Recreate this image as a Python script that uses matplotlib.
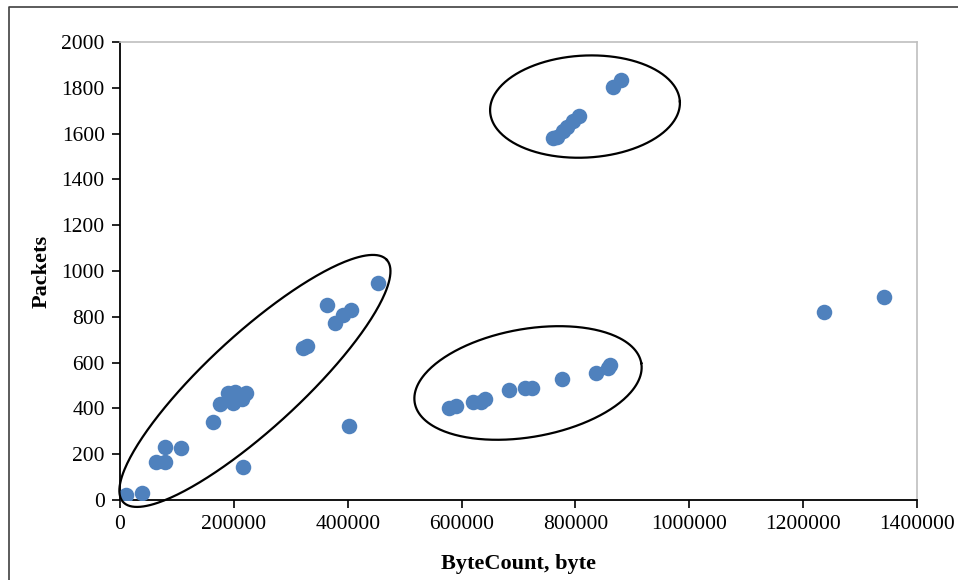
import numpy as np
import matplotlib
matplotlib.use('Agg')
import matplotlib.pyplot as plt
from matplotlib.lines import Line2D

plt.rcParams['font.family'] = ['Liberation Serif', 'DejaVu Serif']

# 데이터
byte_count = [
    11000, 38000, 64000, 79000, 79000, 108000, 163000, 176000, 190000, 202000,
    199000, 214000, 221000, 216000, 322000, 329000, 363000, 378000, 392000, 405000,
    403000, 454000,
    578000, 591000, 620000, 635000, 641000, 684000, 711000, 723000, 776000, 837000,
    858000, 861000,
    760000, 768000, 778000, 786000, 796000, 806000, 866000, 880000,
    1237000, 1342000,
]
packets = [
    22, 29, 167, 167, 233, 226, 342, 419, 469, 470,
    422, 440, 469, 146, 662, 672, 850, 772, 808, 830,
    323, 946,
    400, 410, 429, 429, 443, 480, 487, 487, 527, 556,
    578, 590,
    1580, 1585, 1610, 1630, 1655, 1678, 1805, 1835,
    820, 888,
]

x_ticks = [0, 200000, 400000, 600000, 800000, 1000000, 1200000, 1400000]
y_ticks = [0, 200, 400, 600, 800, 1000, 1200, 1400, 1600, 1800, 2000]

# 군집 표시용 타원: 중심(데이터), 반축(픽셀), 각도(도)
ellipse_centers = [(237000, 520), (716700, 511), (816800, 1718)]
ellipse_axes = [(179, 47), (115, 54), (95, 51)]
ellipse_angles = [42.6, 10, 3]

W, H = 958, 580
fig = plt.figure(figsize=(W / 100, H / 100), dpi=100)
ax_left, ax_right, ax_bottom, ax_top = 120, 917, 500, 42
ax = fig.add_axes([ax_left / W, (H - ax_bottom) / H,
                   (ax_right - ax_left) / W, (ax_bottom - ax_top) / H])

ax.scatter(byte_count, packets, s=125, color='#4f81bd', zorder=3, linewidths=0)

ax.set_xlim(0, 1400000)
ax.set_ylim(0, 2000)
ax.set_xticks(x_ticks)
ax.set_xticklabels([str(v) for v in x_ticks])
ax.set_yticks(y_ticks)
ax.set_yticklabels([str(v) for v in y_ticks])
ax.tick_params(direction='out', length=6, width=1.2, labelsize=15.5, pad=5)

for side in ['left', 'bottom']:
    ax.spines[side].set_linewidth(1.3)
    ax.spines[side].set_color('black')
for side in ['top', 'right']:
    ax.spines[side].set_linewidth(1.2)
    ax.spines[side].set_color('#bfbfbf')

ax.set_xlabel('ByteCount, byte', fontsize=16, fontweight='bold', labelpad=14)
ax.set_ylabel('Packets', fontsize=16, fontweight='bold', labelpad=7)

# 타원: 픽셀 단위 → 데이터 단위로 변환해서 선으로 그림
px_x = 1400000 / (ax_right - ax_left)
px_y = 2000 / (ax_bottom - ax_top)
t = np.linspace(0, 2 * np.pi, 300)
for (cx, cy), (a, b), ang in zip(ellipse_centers, ellipse_axes, ellipse_angles):
    th = np.deg2rad(ang)
    dx = a * np.cos(t) * np.cos(th) - b * np.sin(t) * np.sin(th)
    dy = a * np.cos(t) * np.sin(th) + b * np.sin(t) * np.cos(th)
    ax.plot(cx + dx * px_x, cy + dy * px_y, color='black', lw=1.6,
            zorder=4, clip_on=False)

# 바깥 테두리
fig.add_artist(Line2D([9 / W, 9 / W, 1], [0, 1 - 7 / H, 1 - 7 / H],
                      color='#404040', lw=1.2))

fig.savefig('out.png', dpi=100)
